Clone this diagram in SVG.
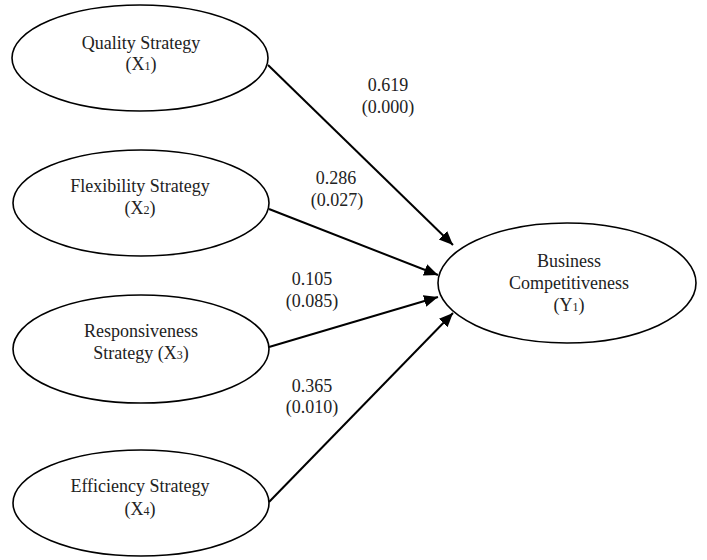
<svg xmlns="http://www.w3.org/2000/svg" width="707" height="560" viewBox="0 0 707 560">
<style>
.node ellipse{fill:#fff;stroke:#000;stroke-width:1.6}
text{font-family:"Liberation Serif","Times New Roman",serif;font-size:18px;fill:#222;text-anchor:middle}
.sub{font-size:12px}
.edge{stroke:#000;stroke-width:2;fill:none;marker-end:url(#ah)}
</style>
<defs>
<marker id="ah" markerUnits="userSpaceOnUse" markerWidth="16" markerHeight="14" refX="14" refY="6" orient="auto">
<path d="M0,0 L14,6 L0,12 Z" fill="#000"/>
</marker>
</defs>
<rect width="707" height="560" fill="#fff"/>
<g id="connectors">
<line class="edge" x1="268" y1="65" x2="453" y2="245"/>
<line class="edge" x1="269" y1="209" x2="438" y2="275"/>
<line class="edge" x1="269" y1="347" x2="438" y2="297"/>
<line class="edge" x1="269" y1="502" x2="453" y2="313"/>
</g>
<g id="labels">
<text x="388" y="91">0.619</text>
<text x="388" y="113">(0.000)</text>
<text x="336" y="184">0.286</text>
<text x="337" y="206">(0.027)</text>
<text x="312" y="285">0.105</text>
<text x="312" y="307">(0.085)</text>
<text x="312" y="392">0.365</text>
<text x="312" y="413">(0.010)</text>
</g>
<g id="x1" class="node">
<ellipse cx="140" cy="58" rx="128" ry="53"/>
<text x="141" y="49">Quality Strategy</text>
<text x="141" y="70">(X<tspan class="sub">1</tspan>)</text>
</g>
<g id="x2" class="node">
<ellipse cx="141" cy="203" rx="128" ry="53"/>
<text x="140" y="192">Flexibility Strategy</text>
<text x="140" y="214">(X<tspan class="sub">2</tspan>)</text>
</g>
<g id="x3" class="node">
<ellipse cx="141" cy="349" rx="128" ry="54"/>
<text x="141" y="337">Responsiveness</text>
<text x="141" y="359">Strategy (X<tspan class="sub">3</tspan>)</text>
</g>
<g id="x4" class="node">
<ellipse cx="141" cy="503" rx="128" ry="53"/>
<text x="140" y="492">Efficiency Strategy</text>
<text x="140" y="515">(X<tspan class="sub">4</tspan>)</text>
</g>
<g id="y1" class="node">
<ellipse cx="567" cy="283" rx="129" ry="60"/>
<text x="569" y="267">Business</text>
<text x="569" y="289">Competitiveness</text>
<text x="569" y="311">(Y<tspan class="sub">1</tspan>)</text>
</g>
</svg>
